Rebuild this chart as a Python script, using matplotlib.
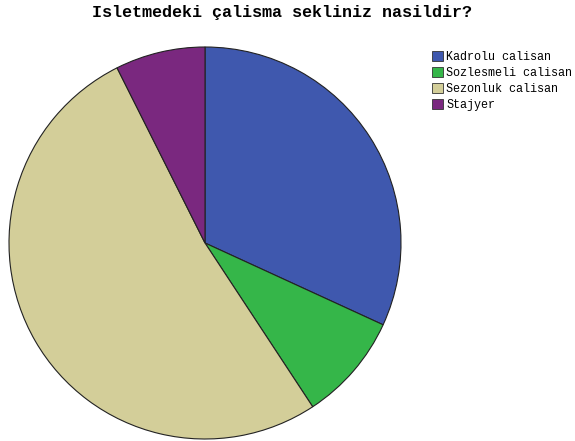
import matplotlib
matplotlib.use('Agg')
import matplotlib.pyplot as plt
from matplotlib.patches import Patch

title = 'Isletmedeki çalisma sekliniz nasildir?'
labels = ['Kadrolu calisan', 'Sozlesmeli calisan', 'Sezonluk calisan', 'Stajyer']
counts = [43, 12, 70, 10]
colors = ['#3F58AE', '#35B649', '#D3CE99', '#7A287F']

W, H = 575, 441
fig = plt.figure(figsize=(W / 100, H / 100), dpi=100)
fig.patch.set_facecolor('white')

# pie centre (205, 243) px from top, radius ~196 px
cx, cy, r = 205, H - 243, 196
ax = fig.add_axes([(cx - r) / W, (cy - r) / H, 2 * r / W, 2 * r / H])
ax.pie(counts, colors=colors, startangle=90, counterclock=False,
       wedgeprops={'edgecolor': '#222222', 'linewidth': 0.8})
ax.set_xlim(-1, 1)
ax.set_ylim(-1, 1)
ax.set_aspect('equal')
ax.axis('off')

fig.text(282 / W, 1 - 12 / H, title, ha='center', va='center',
         family='Liberation Mono', fontweight='bold', fontsize=12.1)

handles = [Patch(facecolor=c, edgecolor='#333333', linewidth=0.6) for c in colors]
leg = fig.legend(handles, labels, loc='upper left',
                 bbox_to_anchor=(432 / W, 1 - 51 / H),
                 frameon=False, prop={'family': 'Liberation Mono', 'size': 8.5},
                 handlelength=0.9, handleheight=0.9, handletextpad=0.3,
                 labelspacing=0.35, borderaxespad=0, borderpad=0)

fig.savefig('out.png', dpi=100)
